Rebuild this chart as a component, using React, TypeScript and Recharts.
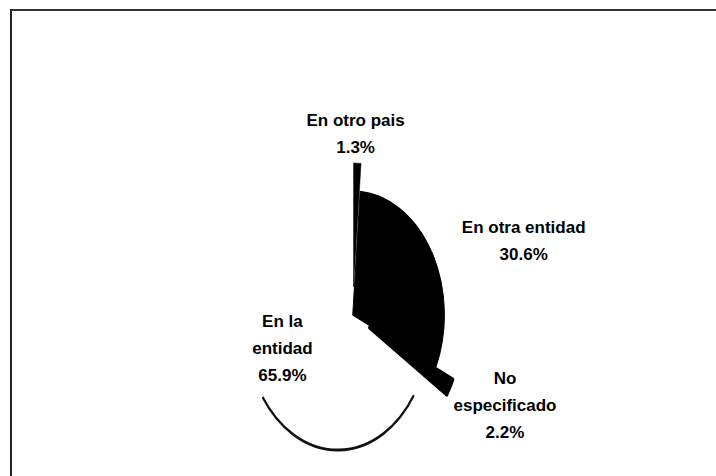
import { PieChart, Pie, Cell } from 'recharts';

// slices, clockwise from 12 o'clock
const CATEGORIES = ['En otro pais', 'En otra entidad', 'No especificado', 'En la entidad'];
const VALUES = [1.3, 30.6, 2.2, 65.9];
const LABEL_LINES = [['En otro pais'], ['En otra entidad'], ['No', 'especificado'], ['En la', 'entidad']];

const FILLS = ['#000', '#000', '#000', '#fff'];
const STROKE_W = [0.6, 1.2, 4, 2.8];
const EXPLODE = [28, 0, 26, 23];
const SQUISH = 0.74; // the scanned pie is narrower than it is tall
const CX = 349;
const CY = 310;
const R = 124;
const RAD = Math.PI / 180;

const data = CATEGORIES.map((name, i) => ({ name, value: VALUES[i] }));
const total = VALUES.reduce((s, v) => s + v, 0);

// mid angle of each slice, clockwise from top, in degrees
const midAngles = VALUES.map((v, i) => {
  const before = VALUES.slice(0, i).reduce((s, x) => s + x, 0);
  return ((before + v / 2) / total) * 360;
});
const startAngles = VALUES.map((_, i) => (VALUES.slice(0, i).reduce((s, x) => s + x, 0) / total) * 360);

function sliceStyle(i: number) {
  const t = midAngles[i] * RAD;
  const dx = SQUISH * EXPLODE[i] * Math.sin(t);
  const dy = -EXPLODE[i] * Math.cos(t);
  return {
    transformOrigin: `${CX}px ${CY}px`,
    transform: `translate(${dx}px, ${dy}px) scaleX(${SQUISH})`,
  };
}

// only the bottom of the white slice's rim survived the scan
const arcFrom = 124;
const arcTo = 235;
const whiteStart = startAngles[3];
const whiteDash = `0 ${((arcFrom - whiteStart) * RAD * R).toFixed(1)} ${((arcTo - arcFrom) * RAD * R).toFixed(1)} 3000`;

// label ellipse radii (outer labels) and small hand nudges
const LABEL_RX = [186, 186, 186, 77];
const LABEL_RY = [170, 170, 170, 77];
const LABEL_NUDGE = [[-6, -11], [9, 12], [-12, 9], [-4, -3]];
const LINE_H = 27;

function renderLabel(props: any) {
  const { cx, cy, midAngle, index, value } = props;
  const x = cx + LABEL_RX[index] * Math.cos(-midAngle * RAD) + LABEL_NUDGE[index][0];
  const y = cy + LABEL_RY[index] * Math.sin(-midAngle * RAD) + LABEL_NUDGE[index][1];
  const lines = [...LABEL_LINES[index], `${value.toFixed(1)}%`];
  return (
    <text
      key={`lbl-${index}`}
      x={x}
      y={y}
      textAnchor="middle"
      fill="#000"
      fontFamily="'Liberation Sans', Arial, sans-serif"
      fontWeight="bold"
      fontSize={17}
    >
      {lines.map((ln, k) => (
        <tspan key={k} x={x} y={y + (k - (lines.length - 1) / 2) * LINE_H} dominantBaseline="central">
          {ln}
        </tspan>
      ))}
    </text>
  );
}

export default function App() {
  return (
    <div style={{ position: 'fixed', left: 0, top: 0, width: 716, height: 476, background: '#fff', overflow: 'hidden' }}>
      {/* scanned frame: only the top and left edges are in view */}
      <div style={{ position: 'absolute', left: 10, top: 9, width: 706, height: 2, background: '#333' }} />
      <div style={{ position: 'absolute', left: 10, top: 9, width: 2, height: 467, background: '#222' }} />
      <div style={{ position: 'absolute', left: 0, top: 0 }}>
        <PieChart width={716} height={476}>
          <Pie
            data={data}
            dataKey="value"
            nameKey="name"
            cx={CX}
            cy={CY}
            outerRadius={R}
            startAngle={90}
            endAngle={-270}
            label={renderLabel}
            labelLine={false}
            isAnimationActive={false}
          >
            {data.map((d, i) => (
              <Cell
                key={d.name}
                fill={FILLS[i]}
                stroke={i === 3 ? '#111' : '#000'}
                strokeWidth={STROKE_W[i]}
                strokeLinejoin="round"
                strokeDasharray={i === 3 ? whiteDash : undefined}
                style={sliceStyle(i)}
              />
            ))}
          </Pie>
        </PieChart>
      </div>
    </div>
  );
}
